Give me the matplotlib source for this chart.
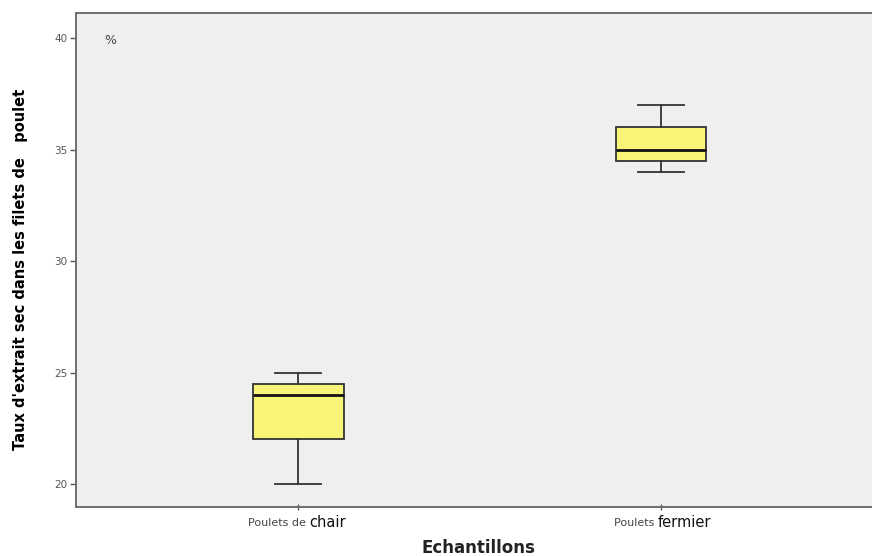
import matplotlib
matplotlib.use('Agg')
import matplotlib.pyplot as plt
import matplotlib.transforms as mtransforms

# data
groups = ['Poulets de chair', 'Poulets fermier']
label_small = ['Poulets de ', 'Poulets ']
label_big = ['chair', 'fermier']
whis_low = [20.0, 34.0]
q1 = [22.0, 34.5]
med = [24.0, 35.0]
q3 = [24.5, 36.0]
whis_high = [25.0, 37.0]
yticks = [20, 25, 30, 35, 40]

fig = plt.figure(figsize=(8.72, 5.56), dpi=100)
ax = fig.add_axes([0.0872, 0.0881, 0.9128, 0.8885])
ax.set_facecolor('#efefef')

stats = []
for i, g in enumerate(groups):
    stats.append({'label': g, 'whislo': whis_low[i], 'q1': q1[i], 'med': med[i],
                  'q3': q3[i], 'whishi': whis_high[i], 'fliers': []})

ax.bxp(stats, positions=[1, 2], widths=0.25, patch_artist=True, showfliers=False,
       boxprops=dict(facecolor='#f8f478', edgecolor='#333333', linewidth=1.3),
       whiskerprops=dict(color='#333333', linewidth=1.3),
       capprops=dict(color='#333333', linewidth=1.3),
       capwidths=0.127,
       medianprops=dict(color='#111111', linewidth=2.0))

ax.set_xlim(0.388, 2.581)
ax.set_ylim(18.97, 41.12)

ax.set_yticks(yticks)
ax.set_yticklabels([str(t) for t in yticks], color='#555555', fontsize=7.5)
ax.tick_params(axis='y', length=4, width=1, color='#555555', pad=2)
ax.set_xticks([1, 2])
ax.set_xticklabels(['', ''])
ax.tick_params(axis='x', length=4, width=1, color='#555555', direction='inout')

for side in ['top', 'left', 'bottom']:
    ax.spines[side].set_color('#6e6e6e')
    ax.spines[side].set_linewidth(1.4)
ax.spines['right'].set_visible(False)

# mixed-size category labels under the ticks
trans = mtransforms.blended_transform_factory(ax.transData, ax.transAxes)
shift = [0.03, -0.01]
for i in range(len(groups)):
    x = i + 1 + shift[i]
    ax.text(x, -0.022, label_small[i], transform=trans, ha='right', va='top',
            fontsize=8, color='#444444')
    ax.text(x, -0.017, label_big[i], transform=trans, ha='left', va='top',
            fontsize=10.5, color='#111111')

ax.text(0.043, 0.945, '%', transform=ax.transAxes, fontsize=9, color='#444444',
        ha='center', va='center')

ax.set_ylabel("Taux d'extrait sec dans les filets de   poulet", fontsize=10.5,
              fontweight='bold', family=['Liberation Sans Narrow', 'DejaVu Sans'])
ax.yaxis.set_label_coords(-0.060, 0.482)
ax.set_xlabel('Echantillons', fontsize=12, fontweight='bold', color='#222222')
ax.xaxis.set_label_coords(0.505, -0.064)

plt.savefig('out.png', dpi=100)
